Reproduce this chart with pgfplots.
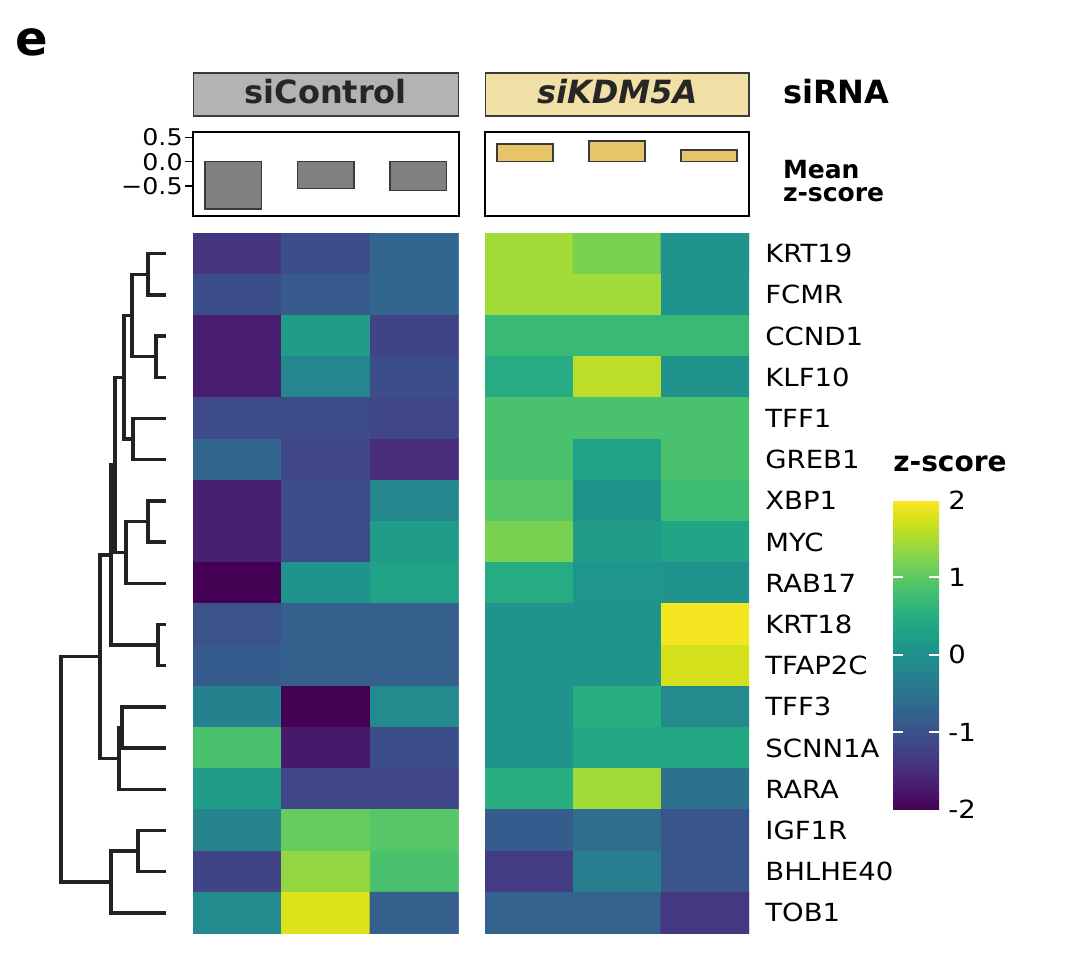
\documentclass[border=0pt]{standalone}
\usepackage{pgfplots}
\pgfplotsset{compat=1.18}
\usepackage{pgfplotstable}
\usepackage{fontspec}
\setmainfont{DejaVu Sans}
\newfontfamily\labelfont{DejaVu Sans}[FakeStretch=1.1]
\definecolor{ctrlgray}{HTML}{B3B3B3}
\definecolor{kdmgold}{HTML}{F1E0A5}
\definecolor{bargray}{HTML}{808080}
\definecolor{bargold}{HTML}{E6C468}
\definecolor{edgegray}{HTML}{3A3A3A}
\definecolor{dendro}{HTML}{222222}
\definecolor{hdrtext}{HTML}{262626}

% siControl z-scores: x = replicate (0..2), y = gene row (0 = KRT19 ... 16 = TOB1)
\pgfplotstableread{
x y z
0 0 -1.40
1 0 -1.05
2 0 -0.70
0 1 -1.05
1 1 -0.90
2 1 -0.70
0 2 -1.70
1 2 0.20
2 2 -1.20
0 3 -1.70
1 3 -0.15
2 3 -1.05
0 4 -1.10
1 4 -1.10
2 4 -1.15
0 5 -0.70
1 5 -1.15
2 5 -1.50
0 6 -1.65
1 6 -1.10
2 6 -0.15
0 7 -1.65
1 7 -1.10
2 7 0.20
0 8 -2.00
1 8 0.05
2 8 0.30
0 9 -1.00
1 9 -0.80
2 9 -0.80
0 10 -0.85
1 10 -0.80
2 10 -0.80
0 11 -0.25
1 11 -2.00
2 11 -0.10
0 12 0.85
1 12 -1.75
2 12 -1.05
0 13 0.20
1 13 -1.15
2 13 -1.15
0 14 -0.20
1 14 1.05
2 14 0.95
0 15 -1.20
1 15 1.35
2 15 0.85
0 16 -0.10
1 16 1.80
2 16 -0.80
}\ctrltable

% siKDM5A z-scores
\pgfplotstableread{
x y z
0 0 1.45
1 0 1.20
2 0 0.05
0 1 1.45
1 1 1.45
2 1 0.05
0 2 0.70
1 2 0.70
2 2 0.70
0 3 0.45
1 3 1.60
2 3 0.05
0 4 0.85
1 4 0.85
2 4 0.85
0 5 0.85
1 5 0.30
2 5 0.85
0 6 0.95
1 6 0.05
2 6 0.75
0 7 1.20
1 7 0.20
2 7 0.35
0 8 0.45
1 8 0.10
2 8 0.05
0 9 0.05
1 9 0.05
2 9 1.95
0 10 0.05
1 10 0.05
2 10 1.75
0 11 0.05
1 11 0.50
2 11 -0.10
0 12 0.05
1 12 0.40
2 12 0.40
0 13 0.50
1 13 1.45
2 13 -0.50
0 14 -0.85
1 14 -0.55
2 14 -0.95
0 15 -1.30
1 15 -0.30
2 15 -0.95
0 16 -0.75
1 16 -0.75
2 16 -1.35
}\kdmtable

\tikzset{dline/.style={draw=dendro, line width=1.7pt, line join=miter, solid, no marks}}

\begin{document}
\begin{tikzpicture}
\path (0pt,0pt) rectangle (540pt,-476pt);

% panel letter
\node[anchor=base west, inner sep=0pt, font=\fontsize{24}{26}\selectfont\bfseries] at (7.5pt,-28pt) {e};

% siRNA header boxes
\draw[fill=ctrlgray, draw=edgegray, line width=0.9pt] (96.7pt,-36.65pt) rectangle (229.2pt,-57.85pt);
\draw[fill=kdmgold, draw=edgegray, line width=0.9pt] (242.7pt,-36.65pt) rectangle (374.5pt,-57.85pt);
\node[anchor=base, inner sep=0pt, text=hdrtext, font=\fontsize{16}{18}\selectfont\bfseries] at (162.9pt,-51.65pt) {siControl};
\node[anchor=base, inner sep=0pt, text=hdrtext, font=\fontsize{16}{18}\selectfont\bfseries\itshape] at (308.6pt,-51.65pt) {siKDM5A};
\node[anchor=base west, inner sep=0pt, font=\fontsize{16}{18}\selectfont\bfseries] at (391.3pt,-51.65pt) {siRNA};
\node[anchor=base west, inner sep=0pt, font=\fontsize{12.5}{14}\selectfont\bfseries] at (391.3pt,-89.5pt) {Mean};
\node[anchor=base west, inner sep=0pt, font=\fontsize{12.5}{14}\selectfont\bfseries] at (391.3pt,-100.85pt) {z-score};
\node[anchor=base west, inner sep=0pt, font=\fontsize{14}{16}\selectfont\bfseries] at (446.5pt,-235.85pt) {z-score};

% mean z-score bars, siControl
\begin{axis}[at={(96.5pt,-107.85pt)}, anchor=south west, scale only axis,
  width=132.75pt, height=42pt,
  xmin=-0.437, xmax=2.437, ymin=-1.109, ymax=0.615,
  ybar, bar width=0.61, xtick=\empty,
  ytick={-0.5,0,0.5}, yticklabels={−0.5,0.0,0.5},
  ytick pos=left, tick align=outside, major tick length=4pt,
  axis line style={line width=1pt},
  tick style={black, line width=0.8pt},
  yticklabel style={font=\fontsize{11.5}{12}\labelfont, inner sep=0pt, xshift=-1pt}]
\addplot[fill=bargray, draw=edgegray, line width=0.8pt] coordinates {(0,-0.97) (1,-0.55) (2,-0.595)};
\end{axis}

% mean z-score bars, siKDM5A
\begin{axis}[at={(242.5pt,-107.85pt)}, anchor=south west, scale only axis,
  width=132pt, height=42pt,
  xmin=-0.437, xmax=2.437, ymin=-1.109, ymax=0.615,
  ybar, bar width=0.61, xtick=\empty, ytick=\empty,
  axis line style={line width=1pt}]
\addplot[fill=bargold, draw=edgegray, line width=0.8pt] coordinates {(0,0.36) (1,0.425) (2,0.24)};
\end{axis}

% dendrogram
\begin{axis}[at={(0pt,-466.7pt)}, anchor=south west, scale only axis,
  width=83pt, height=350.2pt,
  xmin=0, xmax=166, x dir=reverse,
  ymin=-0.5, ymax=16.5, y dir=reverse,
  hide axis, clip=false]
\addplot[dline] coordinates {(0,0) (18,0) (18,1) (0,1)};
\addplot[dline] coordinates {(0,2) (10,2) (10,3) (0,3)};
\addplot[dline] coordinates {(18,0.5) (34,0.5) (34,2.5) (10,2.5)};
\addplot[dline] coordinates {(0,4) (33,4) (33,5) (0,5)};
\addplot[dline] coordinates {(34,1.5) (42,1.5) (42,4.5) (33,4.5)};
\addplot[dline] coordinates {(0,6) (18,6) (18,7) (0,7)};
\addplot[dline] coordinates {(18,6.5) (40,6.5) (40,8) (0,8)};
\addplot[dline] coordinates {(42,3) (51,3) (51,7.25) (40,7.25)};
\addplot[dline] coordinates {(0,9) (8,9) (8,10) (0,10)};
\addplot[dline] coordinates {(51,5.125) (55,5.125) (55,9.5) (8,9.5)};
\addplot[dline] coordinates {(0,11) (44,11) (44,12) (0,12)};
\addplot[dline] coordinates {(44,11.5) (47,11.5) (47,13) (0,13)};
\addplot[dline] coordinates {(55,7.3125) (66,7.3125) (66,12.25) (47,12.25)};
\addplot[dline] coordinates {(0,14) (28,14) (28,15) (0,15)};
\addplot[dline] coordinates {(28,14.5) (55,14.5) (55,16) (0,16)};
\addplot[dline] coordinates {(66,9.78) (105,9.78) (105,15.25) (55,15.25)};
\end{axis}

% heatmap siControl
\begin{axis}[at={(96.5pt,-466.7pt)}, anchor=south west, scale only axis,
  width=132.75pt, height=350.2pt,
  xmin=-0.5, xmax=2.5, ymin=-0.5, ymax=16.5, y dir=reverse,
  hide axis, colormap/viridis, point meta min=-2, point meta max=2]
\addplot[matrix plot*, mesh/cols=3, point meta=explicit] table[x=x, y=y, meta=z] {\ctrltable};
\end{axis}

% heatmap siKDM5A with gene labels and colour bar
\begin{axis}[at={(242.5pt,-466.7pt)}, anchor=south west, scale only axis,
  width=132pt, height=350.2pt,
  xmin=-0.5, xmax=2.5, ymin=-0.5, ymax=16.5, y dir=reverse,
  axis line style={draw=none}, xtick=\empty,
  ytick={0,...,16},
  yticklabels={KRT19,FCMR,CCND1,KLF10,TFF1,GREB1,XBP1,MYC,RAB17,KRT18,TFAP2C,TFF3,SCNN1A,RARA,IGF1R,BHLHE40,TOB1},
  yticklabel pos=right, ytick style={draw=none}, major tick length=0pt,
  yticklabel style={anchor=west, inner sep=0pt, xshift=8pt, font=\fontsize{12.5}{14}\labelfont},
  colormap/viridis, point meta min=-2, point meta max=2,
  colorbar,
  colorbar/width=23pt,
  colorbar shift/.style={},
  colorbar style={
    at={(parent axis.north east)}, anchor=north west, xshift=72pt, yshift=-133.5pt,
    scale only axis, height=154.65pt,
    axis line style={draw=none},
    xtick=\empty, ytick=\empty
  }]
\addplot[matrix plot*, mesh/cols=3, point meta=explicit] table[x=x, y=y, meta=z] {\kdmtable};
\end{axis}

% colour bar ticks (white dashes at both edges) and labels
\begin{axis}[at={(446.5pt,-404.65pt)}, anchor=south west, scale only axis,
  width=23pt, height=154.65pt,
  xmin=0, xmax=1, ymin=-2, ymax=2,
  axis line style={draw=none}, xtick=\empty,
  ytick={-1,0,1}, yticklabels={-1,0,1},
  extra y ticks={-2,2}, extra y tick labels={-2,2},
  extra y tick style={major tick length=0pt},
  yticklabel pos=right, ytick pos=right,
  tick align=inside, major tick length=23pt,
  ytick style={draw=white, line width=1pt, dash pattern=on 5pt off 13pt on 5pt},
  yticklabel style={anchor=west, inner sep=0pt, xshift=4.5pt, font=\fontsize{12.5}{14}\labelfont}]
\end{axis}
\end{tikzpicture}
\end{document}
